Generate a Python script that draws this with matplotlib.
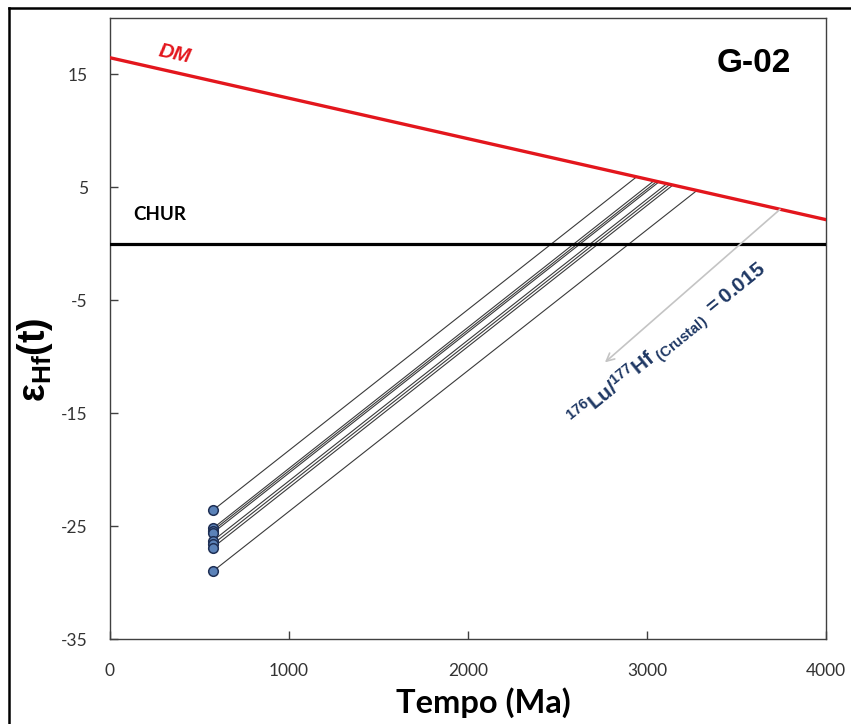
import numpy as np
import matplotlib
matplotlib.use("Agg")
import matplotlib.pyplot as plt
from matplotlib.lines import Line2D

plt.rcParams['mathtext.fontset'] = 'custom'
plt.rcParams['mathtext.rm'] = 'Liberation Sans'
plt.rcParams['mathtext.bf'] = 'Liberation Sans:bold'
plt.rcParams['mathtext.it'] = 'Liberation Sans:italic'
plt.rcParams['axes.unicode_minus'] = False

# ---- data ----
sample_age = [575, 575, 575, 575, 575, 575, 575, 575]          # Ma
eps_hf_t = [-23.6, -25.2, -25.4, -25.6, -26.3, -26.6, -26.9, -29.0]
tdm_age = [2942, 3039, 3055, 3067, 3111, 3128, 3145, 3279]      # Ma (model ages)
dm_age = [0, 4000]
dm_eps = [16.48, 2.14]
chur_age = [0, 4000]
chur_eps = [0, 0]
arrow_start = (3743, 3.05)
arrow_end = (2765, -10.5)
x_ticks = [0, 1000, 2000, 3000, 4000]
y_ticks = [-35, -25, -15, -5, 5, 15]

fig = plt.figure(figsize=(8.51, 7.24), dpi=100)
ax = fig.add_axes([110/851, 1-639/724, (826-110)/851, (639-18)/724])

# DM and CHUR
ax.plot(dm_age, dm_eps, color='#e3161d', lw=2.4, zorder=3)
ax.plot(chur_age, chur_eps, color='black', lw=2.3, zorder=3)

# crustal evolution lines
dm_at_tdm = np.interp(tdm_age, dm_age, dm_eps)
for a, e, t, d in zip(sample_age, eps_hf_t, tdm_age, dm_at_tdm):
    ax.plot([a, t], [e, d], color='#3a3a3a', lw=0.8, zorder=2)

ax.scatter(sample_age, eps_hf_t, s=48, facecolor='#5b82b8', edgecolor='#1f3055',
           linewidth=1.1, zorder=4)

# arrow
ax.annotate('', xy=arrow_end, xytext=arrow_start,
            arrowprops=dict(arrowstyle='->', color='#c4c4c4', lw=1.2,
                            mutation_scale=14, shrinkA=0, shrinkB=0))

ax.text(3118, -9.0,
        r'$\mathbf{^{176}Lu/^{177}Hf}_{\mathbf{\ (Crustal)}}\mathbf{\ =0.015}$',
        color='#1f3864', fontsize=15, rotation=39, rotation_mode='anchor',
        ha='center', va='center')

ax.text(360, 16.8, 'DM', color='#e3161d', fontsize=15, fontweight='bold',
        fontstyle='italic', family='Liberation Sans', rotation=-12,
        ha='center', va='center', rotation_mode='anchor')
ax.text(128, 2.6, 'CHUR', color='black', fontsize=13.5, fontweight='bold',
        family='Lato', ha='left', va='center')
ax.text(3598, 16.0, 'G-02', color='black', fontsize=24, fontweight='bold',
        family='Liberation Sans', ha='center', va='center')

ax.set_xlim(0, 4000)
ax.set_ylim(-35, 20)
ax.set_xticks(x_ticks)
ax.set_yticks(y_ticks)
ax.tick_params(direction='in', length=6, width=1, color='#404040',
               labelsize=12.5, labelcolor='#333333')
ax.tick_params(axis='y', pad=16)
ax.tick_params(axis='x', pad=17)
for lab in ax.get_xticklabels() + ax.get_yticklabels():
    lab.set_family('Lato')
for s in ax.spines.values():
    s.set_color('#404040')
    s.set_linewidth(1.0)

ax.set_xlabel('Tempo (Ma)', fontsize=23.5, fontweight='bold', family='Lato',
              va='center')
ax.xaxis.set_label_coords(0.522, -0.103)
ax.set_ylabel(r'$\mathbf{\varepsilon_{Hf}(t)}$', fontsize=27)
ax.yaxis.set_label_coords(-0.077, 0.45)

# outer frame (top and left)
fig.add_artist(Line2D([9/851, 9/851], [0, 1-8/724], transform=fig.transFigure,
                      color='black', lw=1.8))
fig.add_artist(Line2D([9/851, 1], [1-8/724, 1-8/724], transform=fig.transFigure,
                      color='black', lw=1.8))

fig.savefig('out.png', dpi=100)
